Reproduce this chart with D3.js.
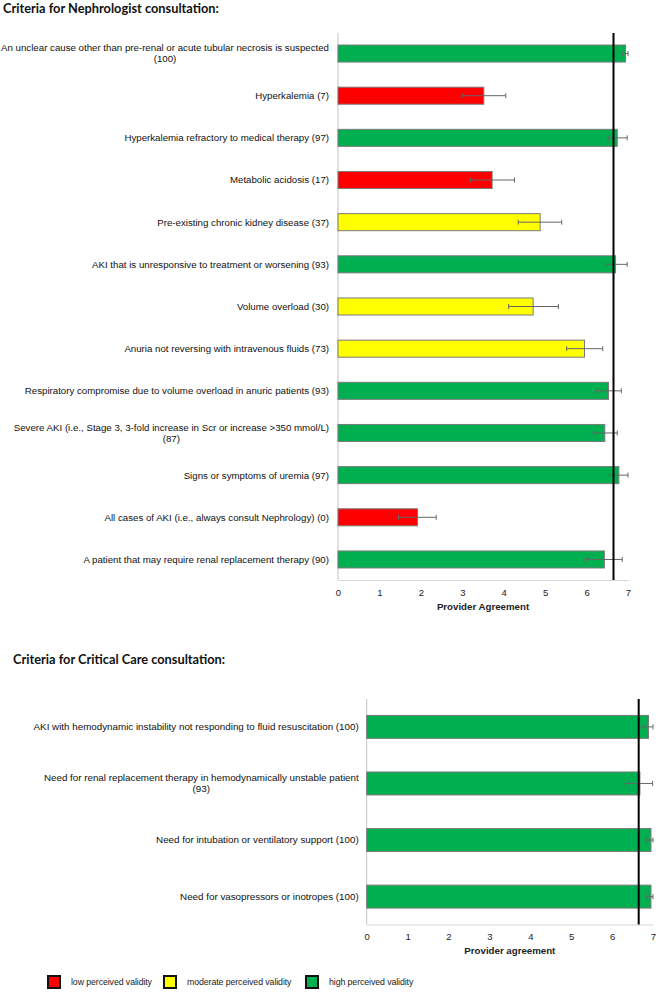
<!DOCTYPE html>
<html>
<head>
<meta charset="utf-8">
<script src="https://cdn.jsdelivr.net/npm/d3@7"></script>
<style>
  html, body { margin: 0; padding: 0; background: #fff; }
  svg { display: block; }
</style>
</head>
<body>
<svg id="chart" width="658" height="992"></svg>
<script>
// ---------------- DATA ----------------
const nephroTitle = "Criteria for Nephrologist consultation:";
const nephroCategories = [
  "An unclear cause other than pre-renal or acute tubular necrosis is suspected\n(100)",
  "Hyperkalemia (7)",
  "Hyperkalemia refractory to medical therapy (97)",
  "Metabolic acidosis (17)",
  "Pre-existing chronic kidney disease (37)",
  "AKI that is unresponsive to treatment or worsening (93)",
  "Volume overload (30)",
  "Anuria not reversing with intravenous fluids (73)",
  "Respiratory compromise due to volume overload in anuric patients (93)",
  "Severe AKI (i.e., Stage 3, 3-fold increase in Scr or increase >350 mmol/L)\n(87)",
  "Signs or symptoms of uremia (97)",
  "All cases of AKI (i.e., always consult Nephrology) (0)",
  "A patient that may require renal replacement therapy (90)"
];
const nephroMeans = [6.94, 3.52, 6.74, 3.72, 4.88, 6.70, 4.71, 5.95, 6.53, 6.44, 6.78, 1.92, 6.43];
const nephroLower = [6.86, 3.00, 6.52, 3.20, 4.35, 6.46, 4.12, 5.52, 6.23, 6.16, 6.55, 1.46, 6.00];
const nephroUpper = [7.00, 4.05, 6.98, 4.26, 5.40, 6.98, 5.32, 6.39, 6.84, 6.74, 7.00, 2.37, 6.86];
const nephroValidity = ["high", "low", "high", "low", "moderate", "high", "moderate", "moderate", "high", "high", "high", "low", "high"];
const nephroAxisTitle = "Provider Agreement";

const ccTitle = "Criteria for Critical Care consultation:";
const ccCategories = [
  "AKI with hemodynamic instability not responding to fluid resuscitation (100)",
  "Need for renal replacement therapy in hemodynamically unstable patient\n(93)",
  "Need for intubation or ventilatory support (100)",
  "Need for vasopressors or inotropes (100)"
];
const ccMeans = [6.89, 6.68, 6.95, 6.95];
const ccLower = [6.75, 6.32, 6.85, 6.85];
const ccUpper = [7.00, 6.99, 7.00, 7.00];
const ccValidity = ["high", "high", "high", "high"];
const ccAxisTitle = "Provider agreement";

const xTicks = [0, 1, 2, 3, 4, 5, 6, 7];
const referenceValue = 6.65;

const validityKeys = ["low", "moderate", "high"];
const validityLabels = ["low perceived validity", "moderate perceived validity", "high perceived validity"];
const validityColors = ["#ff0000", "#ffff00", "#00b050"];

// ---------------- DRAW ----------------
const svg = d3.select("#chart");
const color = d3.scaleOrdinal().domain(validityKeys).range(validityColors);
const labelFont = "'Liberation Sans', Arial, sans-serif";

function drawPanel(cfg) {
  const g = svg.append("g");
  const x = d3.scaleLinear().domain([0, 7]).range([cfg.x0, cfg.x1]);
  const y = d3.scaleBand().domain(cfg.categories).range([cfg.yTop, cfg.yBottom])
    .paddingInner(cfg.padInner).paddingOuter(cfg.padOuter);

  // title
  g.append("text")
    .attr("x", cfg.titleX).attr("y", cfg.titleY)
    .attr("font-family", "Lato, 'Open Sans', sans-serif")
    .attr("font-weight", "bold").attr("font-size", 12.8)
    .attr("fill", "#111")
    .text(cfg.title);

  // left axis line
  g.append("line")
    .attr("x1", x(0)).attr("x2", x(0))
    .attr("y1", cfg.yTop).attr("y2", cfg.yBottom)
    .attr("stroke", "#c4c4c4").attr("stroke-width", 1);

  // bottom axis
  const axis = d3.axisBottom(x).tickValues(xTicks).tickFormat(d3.format("d"))
    .tickSizeInner(0).tickSizeOuter(0).tickPadding(9);
  const ax = g.append("g").attr("transform", `translate(0,${cfg.yBottom})`).call(axis);
  ax.select(".domain").attr("stroke", "#d6d6d6");
  ax.selectAll("text").attr("font-family", labelFont).attr("font-size", 9.5).attr("fill", "#222");

  g.append("text")
    .attr("x", (x(0) + x(7)) / 2).attr("y", cfg.yBottom + cfg.axisTitleDy)
    .attr("text-anchor", "middle")
    .attr("font-family", labelFont).attr("font-weight", "bold").attr("font-size", 9.7)
    .attr("fill", "#222")
    .text(cfg.axisTitle);

  const rows = cfg.categories.map((c, i) => ({
    cat: c, mean: cfg.means[i], lo: cfg.lower[i], hi: cfg.upper[i], v: cfg.validity[i]
  }));

  // bars
  g.selectAll("rect.bar").data(rows).enter().append("rect")
    .attr("class", "bar")
    .attr("x", x(0))
    .attr("y", d => y(d.cat))
    .attr("width", d => x(d.mean) - x(0))
    .attr("height", y.bandwidth())
    .attr("fill", d => color(d.v))
    .attr("stroke", "#7a7a7a").attr("stroke-width", 1);

  // error bars
  const eb = g.selectAll("g.err").data(rows).enter().append("g").attr("class", "err")
    .attr("stroke", "#666").attr("stroke-width", 1);
  eb.append("line")
    .attr("x1", d => x(d.lo)).attr("x2", d => x(d.hi))
    .attr("y1", d => y(d.cat) + y.bandwidth() / 2).attr("y2", d => y(d.cat) + y.bandwidth() / 2);
  eb.append("line")
    .attr("x1", d => x(d.lo)).attr("x2", d => x(d.lo))
    .attr("y1", d => y(d.cat) + y.bandwidth() / 2 - 2.5).attr("y2", d => y(d.cat) + y.bandwidth() / 2 + 2.5);
  eb.append("line")
    .attr("x1", d => x(d.hi)).attr("x2", d => x(d.hi))
    .attr("y1", d => y(d.cat) + y.bandwidth() / 2 - 2.5).attr("y2", d => y(d.cat) + y.bandwidth() / 2 + 2.5);

  // reference line
  g.append("line")
    .attr("x1", x(referenceValue)).attr("x2", x(referenceValue))
    .attr("y1", cfg.yTop).attr("y2", cfg.yBottom)
    .attr("stroke", "#000").attr("stroke-width", 2);

  // category labels
  const lx = x(0) - cfg.labelGap;
  rows.forEach(d => {
    const lines = d.cat.split("\n");
    const cy = y(d.cat) + y.bandwidth() / 2;
    const lh = 11;
    const startY = cy - (lines.length - 1) * lh / 2;
    const first = g.append("text")
      .attr("x", lx).attr("y", startY).attr("dy", "0.35em")
      .attr("text-anchor", "end")
      .attr("font-family", labelFont).attr("font-size", cfg.labelSize).attr("fill", "#111")
      .text(lines[0]);
    if (lines.length > 1) {
      const w = first.node().getComputedTextLength();
      for (let k = 1; k < lines.length; k++) {
        g.append("text")
          .attr("x", lx - w / 2).attr("y", startY + k * lh).attr("dy", "0.35em")
          .attr("text-anchor", "middle")
          .attr("font-family", labelFont).attr("font-size", cfg.labelSize).attr("fill", "#111")
          .text(lines[k]);
      }
    }
  });
}

drawPanel({
  title: nephroTitle, titleX: 3, titleY: 13,
  categories: nephroCategories, means: nephroMeans, lower: nephroLower, upper: nephroUpper,
  validity: nephroValidity, axisTitle: nephroAxisTitle,
  x0: 338, x1: 628, yTop: 33, yBottom: 580, padInner: 0.596, padOuter: 0.285,
  labelGap: 9, axisTitleDy: 30, labelSize: 9.7
});

drawPanel({
  title: ccTitle, titleX: 13, titleY: 664,
  categories: ccCategories, means: ccMeans, lower: ccLower, upper: ccUpper,
  validity: ccValidity, axisTitle: ccAxisTitle,
  x0: 366.7, x1: 653, yTop: 699, yBottom: 924.5, padInner: 0.594, padOuter: 0.29,
  labelGap: 8, axisTitleDy: 29, labelSize: 9.8
});

// legend
const legendX = [47, 163, 305];
const lg = svg.append("g");
validityKeys.forEach((k, i) => {
  lg.append("rect")
    .attr("x", legendX[i] + 1).attr("y", 976)
    .attr("width", 12).attr("height", 12)
    .attr("fill", color(k)).attr("stroke", "#111").attr("stroke-width", 2);
  lg.append("text")
    .attr("x", legendX[i] + 24).attr("y", 982).attr("dy", "0.35em")
    .attr("font-family", labelFont).attr("font-size", 8.8).attr("fill", "#222")
    .attr("letter-spacing", -0.1)
    .text(validityLabels[i]);
});
</script>
</body>
</html>
